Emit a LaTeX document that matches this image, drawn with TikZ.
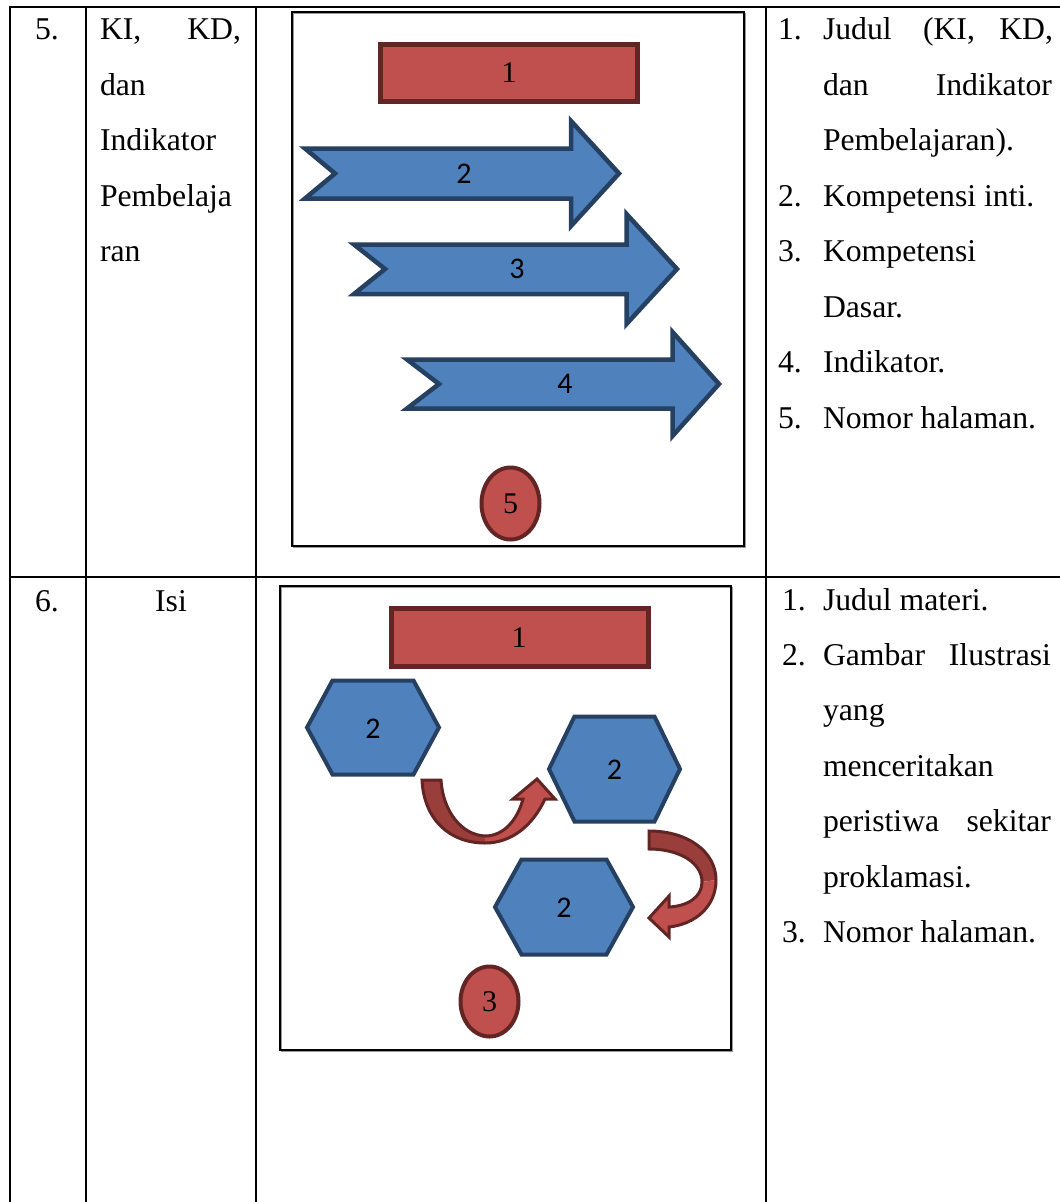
\documentclass[tikz,border=0pt]{standalone}
\usepackage{fontspec}
\setmainfont{Liberation Serif}
\newfontfamily\calibfont{Carlito}
\definecolor{shapeRed}{HTML}{C0504D}
\definecolor{shapeRedLine}{HTML}{632523}
\definecolor{shapeRedBack}{HTML}{9A3E3B}
\definecolor{shapeBlue}{HTML}{4F81BD}
\definecolor{shapeBlueLine}{HTML}{254061}
\begin{document}
\begin{tikzpicture}[x=1pt,y=-1pt,
  tablerule/.style={line width=2.6pt, black, line cap=rect},
  innerframe/.style={line width=1.5pt, black},
  frameshade/.style={line width=1.2pt, black!40},
  txt/.style={inner sep=0pt, outer sep=0pt, anchor=base west, font=\fontsize{31.7}{38}\selectfont},
  txtr/.style={txt, anchor=base east},
  txtc/.style={txt, anchor=base},
  redbox/.style={fill=shapeRed, draw=shapeRedLine, line width=5pt},
  redoval/.style={fill=shapeRed, draw=shapeRedLine, line width=4pt},
  bluearrow/.style={fill=shapeBlue, draw=shapeBlueLine, line width=4.5pt, line join=miter},
  bluehex/.style={fill=shapeBlue, draw=shapeBlueLine, line width=4pt, line join=miter},
  bendfront/.style={fill=shapeRed},
  bendback/.style={fill=shapeRedBack},
  bendline/.style={draw=shapeRedLine, line width=3pt, line join=miter},
  numserif/.style={inner sep=0pt, outer sep=0pt, font=\fontsize{30}{32}\selectfont},
  numsans/.style={inner sep=0pt, outer sep=0pt, font=\calibfont\fontsize{30}{32}\selectfont}]

\useasboundingbox (0,0) rectangle (1060,1202);
\fill[white] (0,0) rectangle (1060,1202);

% ---------- table rules ----------
\draw[tablerule] (10,7) -- (1060,7);
\draw[tablerule] (10,577) -- (1060,577);
\draw[tablerule] (10,7) -- (10,1204);
\draw[tablerule] (86,7) -- (86,1204);
\draw[tablerule] (256,7) -- (256,1204);
\draw[tablerule] (766,7) -- (766,1204);

% ---------- row 5: text ----------
\node[txt]  (no5)   at (35,39.5)  {5.};
\node[txt]  (kiA)   at (100,39.5) {KI,};
\node[txtr] (kdA)   at (241,39.5) {KD,};
\node[txt]  (danA)  at (100,95)   {dan};
\node[txt]  (indA)  at (100,150.5) {Indikator};
\node[txt]  (pemA)  at (100,206)  {Pembelaja};
\node[txt]  (ranA)  at (100,261.5) {ran};

\node[txt]  (l1n) at (778,39.5) {1.};
\node[txt]  (l1a) at (823,39.5) {Judul};
\node[txt]  (l1b) at (923,39.5) {(KI,};
\node[txtr] (l1c) at (1053,39.5) {KD,};
\node[txt]  (l2a) at (823,95) {dan};
\node[txtr] (l2b) at (1052,95) {Indikator};
\node[txt]  (l3a) at (823,150.5) {Pembelajaran).};
\node[txt]  (l4n) at (778,206) {2.};
\node[txt]  (l4a) at (823,206) {Kompetensi inti.};
\node[txt]  (l5n) at (778,261.5) {3.};
\node[txt]  (l5a) at (823,261.5) {Kompetensi};
\node[txt]  (l6a) at (823,317) {Dasar.};
\node[txt]  (l7n) at (778,372.5) {4.};
\node[txt]  (l7a) at (823,372.5) {Indikator.};
\node[txt]  (l8n) at (778,428) {5.};
\node[txt]  (l8a) at (823,428) {Nomor halaman.};

% ---------- row 5: layout sketch ----------
\draw[frameshade] (293.8,13.8) rectangle (745.6,547.6);
\draw[innerframe] (292,12) rectangle (744,546);

\draw[redbox] (380.5,44.5) rectangle (637.5,101.5);
\node[numserif] (titleA) at (509,73) {1};

\draw[bluearrow] (305,148.5) -- (571,148.5) -- (571,121) -- (619,173.5) -- (571,226)
  -- (571,198.5) -- (305,198.5) -- (335,173.5) -- cycle;
\node[numsans] (arrKI) at (464,173.5) {2};

\draw[bluearrow] (354,244.5) -- (626.5,244.5) -- (626.5,214) -- (677,269) -- (626.5,324)
  -- (626.5,294) -- (354,294) -- (385,269) -- cycle;
\node[numsans] (arrKD) at (517,269) {3};

\draw[bluearrow] (407,359.5) -- (672.5,359.5) -- (672.5,332) -- (719,384) -- (672.5,436)
  -- (672.5,408.5) -- (407,408.5) -- (439,384) -- cycle;
\node[numsans] (arrInd) at (565,384) {4};

\draw[redoval] (510.5,503.5) ellipse [x radius=29pt, y radius=36pt];
\node[numserif] (pageA) at (510.5,504) {5};

% ---------- row 6: text ----------
\node[txt]  (no6)  at (35,611) {6.};
\node[txtc] (isi)  at (171,611) {Isi};

\node[txt]  (m1n) at (782,610) {1.};
\node[txt]  (m1a) at (823,610) {Judul materi.};
\node[txt]  (m2n) at (782,665.4) {2.};
\node[txt]  (m2a) at (823,665.4) {Gambar};
\node[txtr] (m2b) at (1051,665.4) {Ilustrasi};
\node[txt]  (m3a) at (823,720.8) {yang};
\node[txt]  (m4a) at (823,776.2) {menceritakan};
\node[txt]  (m5a) at (823,831.6) {peristiwa};
\node[txtr] (m5b) at (1051,831.6) {sekitar};
\node[txt]  (m6a) at (823,887) {proklamasi.};
\node[txt]  (m7n) at (782,942.4) {3.};
\node[txt]  (m7a) at (823,942.4) {Nomor halaman.};

% ---------- row 6: layout sketch ----------
\draw[frameshade] (281.8,587.8) rectangle (732.6,1051.6);
\draw[innerframe] (280,586) rectangle (731,1050);

\draw[redbox] (391.5,608.5) rectangle (648.5,666.5);
\node[numserif] (titleB) at (519,638) {1};

% hexagons
\draw[bluehex] (307,727.5) -- (332.5,680.5) -- (413.5,680.5) -- (439,727.5)
  -- (413.5,774.5) -- (332.5,774.5) -- cycle;
\node[numsans] (hexA) at (373,729) {2};

\draw[bluehex] (549,769) -- (574.5,716.5) -- (654.5,716.5) -- (680,769)
  -- (654.5,821.5) -- (574.5,821.5) -- cycle;
\node[numsans] (hexB) at (614.5,770) {2};

\draw[bluehex] (495,907) -- (521.5,859.5) -- (606.5,859.5) -- (633,907)
  -- (606.5,954.5) -- (521.5,954.5) -- cycle;
\node[numsans] (hexC) at (564,908) {2};

% bent arrow from the first picture to the second
\fill[bendback] (422,780) -- (441,780) .. controls (443,812) and (462,835) .. (485,836)
  -- (485,843) .. controls (450,843) and (424,820) .. (422,780) -- cycle;
\fill[bendfront] (485,836) .. controls (505,836) and (518,818) .. (523,799)
  -- (513,799) -- (537,779) -- (555,799) -- (545,799)
  .. controls (533,825) and (512,843) .. (485,843) -- cycle;
\draw[bendline] (422,780) -- (441,780) .. controls (443,812) and (462,835) .. (485,836)
  .. controls (505,836) and (518,818) .. (523,799)
  -- (513,799) -- (537,779) -- (555,799) -- (545,799)
  .. controls (533,825) and (512,843) .. (485,843)
  .. controls (450,843) and (424,820) .. (422,780) -- cycle;

% bent arrow from the second picture to the third
\fill[bendback] (649,831) .. controls (688,831) and (716,852) .. (716,880)
  -- (702,882) .. controls (702,863) and (680,849) .. (649,849) -- cycle;
\fill[bendfront] (716,880) .. controls (716,906) and (696,924) .. (669,927)
  -- (669,937) -- (649,918) -- (669,896) -- (669,907)
  .. controls (688,906) and (702,897) .. (702,882) -- cycle;
\draw[bendline] (649,831) .. controls (688,831) and (716,852) .. (716,880)
  .. controls (716,906) and (696,924) .. (669,927)
  -- (669,937) -- (649,918) -- (669,896) -- (669,907)
  .. controls (688,906) and (702,897) .. (702,882)
  .. controls (702,863) and (680,849) .. (649,849) -- cycle;

\draw[redoval] (489.5,1001.5) ellipse [x radius=29pt, y radius=35pt];
\node[numserif] (pageB) at (489.5,1002) {3};

\end{tikzpicture}
\end{document}
